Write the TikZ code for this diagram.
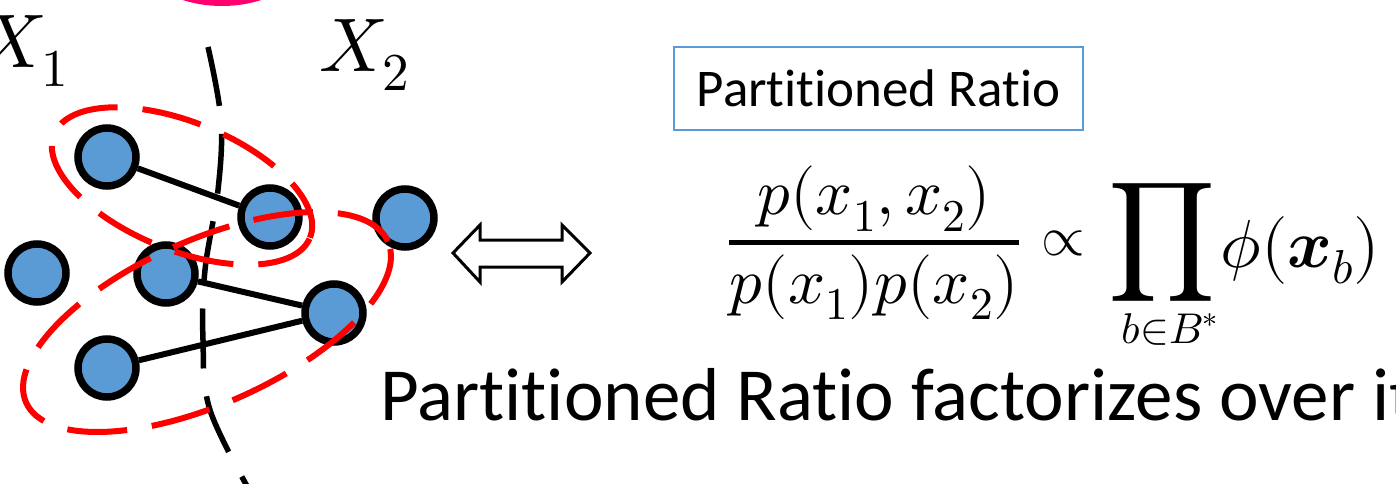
\documentclass[tikz,border=0pt]{standalone}
\usepackage{unicode-math}
\setmainfont{Carlito}[Ligatures={NoCommon}]
\setmathfont{Latin Modern Math}
\definecolor{nodeblue}{RGB}{91,155,213}
\definecolor{boxblue}{RGB}{91,155,213}
\definecolor{hotpink}{RGB}{255,0,110}
\begin{document}
\begin{tikzpicture}[x=1pt,y=-1pt,
  gnode/.style={circle,draw=black,line width=7.5pt,fill=nodeblue,minimum size=58pt,inner sep=0pt},
  gedge/.style={line width=6pt,black},
  cutline/.style={line width=5.5pt,black,dash pattern=on 60pt off 28pt},
  clique/.style={line width=6pt,red,dash pattern=on 60pt off 25pt},
  fml/.style={inner sep=0pt,font=\fontsize{65}{70}\selectfont},
  lbl/.style={inner sep=0pt,font=\fontsize{76}{86}\selectfont},
  titlebox/.style={draw=boxblue,line width=2.5pt,fill=white,minimum width=409pt,minimum height=83pt,inner sep=0pt,font=\fontsize{53}{58}\selectfont},
  caption/.style={inner sep=0pt,font=\fontsize{75}{80}\selectfont},
  twoway/.style={line width=3pt,draw=black,fill=white,line join=miter}
]
\useasboundingbox (0,0) rectangle (1396,484);
\fill[white] (0,0) rectangle (1396,484);

% top magenta outline (partly visible)
\draw[line width=8pt,hotpink] (222,-60) ellipse [x radius=90pt, y radius=62pt];

% labels
\node[lbl,anchor=base west] (lx1) at (-22,68) {$X_1$};
\node[lbl,anchor=base west] (lx2) at (319,72) {$X_2$};

% dashed partition curve
\draw[cutline] plot[smooth,tension=0.6] coordinates {(208,47) (221,120) (218,190) (205,270) (203,340) (210,410) (252,495)};

% graph nodes
\node[gnode] (A) at (107,157) {};
\node[gnode] (B) at (270,217) {};
\node[gnode] (C) at (405,218) {};
\node[gnode] (D) at (37,273) {};
\node[gnode] (E) at (166,274) {};
\node[gnode] (F) at (334,313) {};
\node[gnode] (G) at (107,368) {};

\draw[gedge] (A) -- (B);
\draw[gedge] (E) -- (F);
\draw[gedge] (G) -- (F);

% cliques
\draw[clique,rotate around={-22:(182,186)}] (182,186) ellipse [x radius=138pt, y radius=64pt];
\draw[clique,rotate around={24:(207,322)}] (207,322) ellipse [x radius=198pt, y radius=82pt];

% double arrow
\draw[twoway] (453,253) -- (480,225) -- (480,240) -- (562,240) -- (562,225) -- (590,253)
  -- (562,282) -- (562,267) -- (480,267) -- (480,282) -- cycle;

% title box
\node[titlebox] (title) at (878.5,88.5) {Partitioned Ratio};

% formula
\node[fml,anchor=base] (frac) at (874,259) {$\genfrac{}{}{5pt}{0}{p(x_1,x_2)}{p(x_1)p(x_2)}$};
\node[inner sep=0pt,font=\fontsize{56}{60}\selectfont] (prop) at (1063,243) {$\propto$};
\node[inner sep=0pt,font=\fontsize{84}{90}\selectfont] (prod) at (1162,242) {$\displaystyle\prod$};
\node[inner sep=0pt,font=\fontsize{43}{48}\selectfont,anchor=base] (lim) at (1170,343) {$b{\in}B^*$};
\node[inner sep=0pt,font=\fontsize{68}{72}\selectfont,anchor=base west] (phi) at (1220,267) {$\phi(\symbfit{x}_b)$};

% caption
\node[caption,anchor=base west] (cap) at (380,420) {Partitioned Ratio factorizes over it};
\end{tikzpicture}
\end{document}
